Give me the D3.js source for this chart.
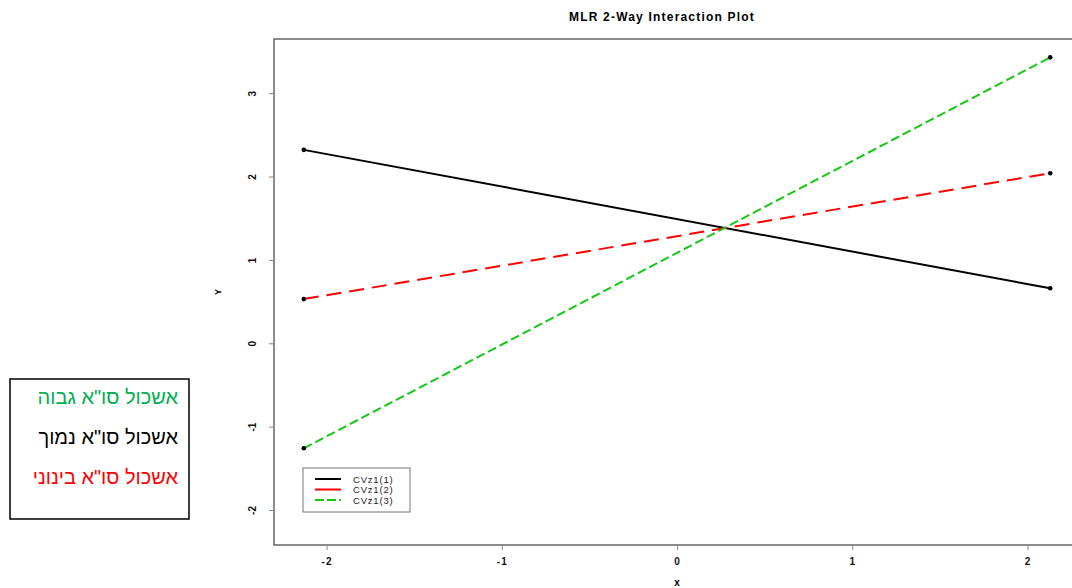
<!DOCTYPE html>
<html>
<head>
<meta charset="utf-8">
<script src="https://cdn.jsdelivr.net/npm/d3@7"></script>
<style>
  body { margin: 0; background: #fff; }
  svg { display: block; }
</style>
</head>
<body>
<div class="chart"></div>
<script>
var width = 1072;
var height = 588;

// data
var xPoints = [-2.13, 2.13];
var seriesNames = ['CVz1(1)', 'CVz1(2)', 'CVz1(3)'];
var blackVals = [2.32, 0.66];
var redVals = [0.53, 2.04];
var greenVals = [-1.26, 3.43];
var xTicks = [-2, -1, 0, 1, 2];
var yTicks = [-2, -1, 0, 1, 2, 3];
var hebrewLabels = ['אשכול סו"א גבוה', 'אשכול סו"א נמוך', 'אשכול סו"א בינוני'];
var hebrewColors = ['#00b050', '#000000', '#ff0000'];

var series = [
	{name: seriesNames[0], vals: blackVals, color: '#000000', dash: null},
	{name: seriesNames[1], vals: redVals, color: '#ff0000', dash: '15,8'},
	{name: seriesNames[2], vals: greenVals, color: '#14c814', dash: '9,4'}
];

var plotLeft = 274, plotRight = 1080, plotTop = 39, plotBottom = 545;

var x = d3.scaleLinear().domain([-2.3, 2.3]).range([plotLeft, plotRight]);
var y = d3.scaleLinear().domain([-2.42, 3.65]).range([plotBottom, plotTop]);

var svg = d3.select('.chart')
	.append('svg')
	.attr('width', width)
	.attr('height', height)
	.style('font-family', 'Liberation Sans, Arial, sans-serif');

// frame
svg.append('rect')
	.attr('x', plotLeft).attr('y', plotTop)
	.attr('width', plotRight - plotLeft).attr('height', plotBottom - plotTop)
	.attr('fill', 'none')
	.attr('stroke', '#666')
	.attr('stroke-width', 1.5);

// axes
var xAxis = svg.append('g')
	.attr('transform', 'translate(0,' + plotBottom + ')')
	.call(d3.axisBottom(x).tickValues(xTicks).tickSize(5).tickPadding(8).tickFormat(d3.format('d')));
xAxis.select('.domain').remove();
xAxis.selectAll('line').attr('stroke', '#888');
xAxis.selectAll('text')
	.attr('font-size', '10px')
	.attr('font-weight', 'bold')
	.attr('letter-spacing', '1px')
	.attr('fill', '#111')
	.text(function(d){ return String(d); });

var yAxis = svg.append('g')
	.attr('transform', 'translate(' + plotLeft + ',0)')
	.call(d3.axisLeft(y).tickValues(yTicks).tickSize(5).tickFormat(d3.format('d')));
yAxis.select('.domain').remove();
yAxis.selectAll('line').attr('stroke', '#888');
yAxis.selectAll('text')
	.attr('font-size', '10px')
	.attr('font-weight', 'bold')
	.attr('fill', '#111')
	.attr('x', 0).attr('dy', 0)
	.attr('text-anchor', 'middle')
	.attr('transform', 'translate(-22,0) rotate(-90)')
	.attr('dominant-baseline', 'central')
	.text(function(d){ return String(d); });

// title and axis labels
svg.append('text')
	.attr('x', 662).attr('y', 21)
	.attr('text-anchor', 'middle')
	.attr('font-size', '12px')
	.attr('font-weight', 'bold')
	.attr('letter-spacing', '1.2px')
	.text('MLR 2-Way Interaction Plot');

svg.append('text')
	.attr('x', 677).attr('y', 586)
	.attr('text-anchor', 'middle')
	.attr('font-size', '10px')
	.attr('font-weight', 'bold')
	.text('x');

svg.append('text')
	.attr('transform', 'translate(221,292) rotate(-90)')
	.attr('text-anchor', 'middle')
	.attr('font-size', '9px')
	.attr('font-weight', 'bold')
	.text('Y');

// lines
var line = d3.line()
	.x(function(d, i){ return x(xPoints[i]); })
	.y(function(d){ return y(d); });

svg.selectAll('.series')
	.data(series)
	.enter().append('path')
	.attr('class', 'series')
	.attr('d', function(d){ return line(d.vals); })
	.attr('fill', 'none')
	.attr('stroke', function(d){ return d.color; })
	.attr('stroke-width', 2)
	.attr('stroke-dasharray', function(d){ return d.dash; });

// end points
series.forEach(function(s){
	svg.selectAll(null)
		.data(s.vals)
		.enter().append('circle')
		.attr('cx', function(d, i){ return x(xPoints[i]); })
		.attr('cy', function(d){ return y(d); })
		.attr('r', 2.3)
		.attr('fill', '#000');
});

// legend
var lg = svg.append('g');
lg.append('rect')
	.attr('x', 303).attr('y', 468)
	.attr('width', 107).attr('height', 44)
	.attr('fill', '#fff')
	.attr('stroke', '#777');
series.forEach(function(s, i){
	var ly = 479 + i * 10.5;
	lg.append('line')
		.attr('x1', 315).attr('x2', 341)
		.attr('y1', ly).attr('y2', ly)
		.attr('stroke', s.color)
		.attr('stroke-width', 2)
		.attr('stroke-dasharray', s.dash ? (i == 1 ? '26,0' : '9,3') : null);
	lg.append('text')
		.attr('x', 353).attr('y', ly)
		.attr('dominant-baseline', 'central')
		.attr('font-size', '9.5px')
		.attr('letter-spacing', '0.8px')
		.attr('fill', '#222')
		.text(s.name);
});

// hebrew box
var hb = svg.append('g');
hb.append('rect')
	.attr('x', 10).attr('y', 379)
	.attr('width', 179).attr('height', 140)
	.attr('fill', '#fff')
	.attr('stroke', '#000')
	.attr('stroke-width', 1.5);
hb.selectAll('text')
	.data(hebrewLabels)
	.enter().append('text')
	.attr('x', 178)
	.attr('y', function(d, i){ return 397 + i * 40; })
	.attr('direction', 'rtl')
	.attr('text-anchor', 'start')
	.attr('dominant-baseline', 'central')
	.attr('font-size', '20px')
	.attr('font-family', 'Liberation Sans, Arial, sans-serif')
	.attr('fill', function(d, i){ return hebrewColors[i]; })
	.text(function(d){ return d; });
</script>
</body>
</html>
